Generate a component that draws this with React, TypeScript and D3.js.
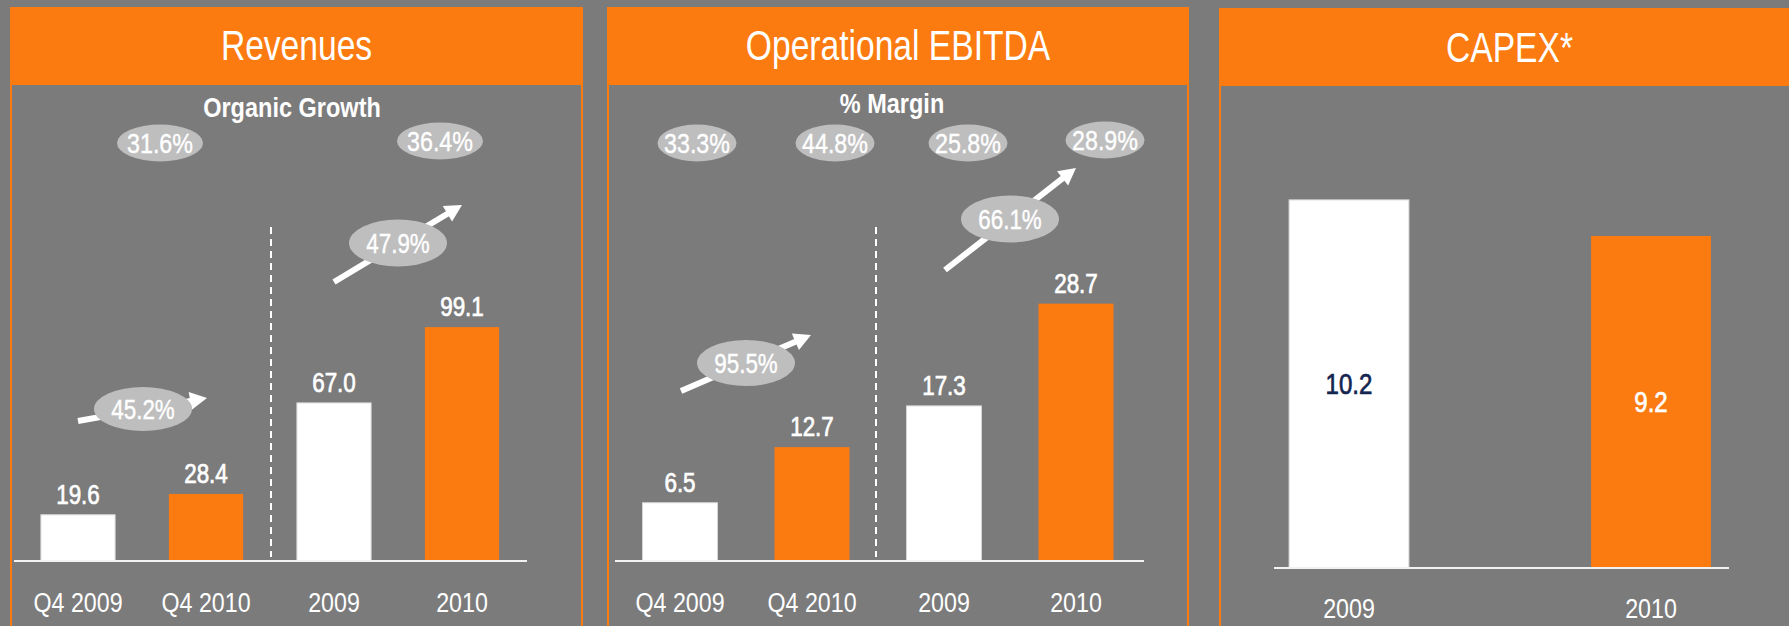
import React from "react";
import * as d3 from "d3";

// ---------- data ----------
const periodCategories = ["Q4 2009", "Q4 2010", "2009", "2010"];
const revenueValues = [19.6, 28.4, 67.0, 99.1];
const ebitdaValues = [6.5, 12.7, 17.3, 28.7];
const capexCategories = ["2009", "2010"];
const capexValues = [10.2, 9.2];
const organicGrowthLabels = ["31.6%", "36.4%"];
const revenueGrowthLabels = ["45.2%", "47.9%"];
const ebitdaMarginLabels = ["33.3%", "44.8%", "25.8%", "28.9%"];
const ebitdaGrowthLabels = ["95.5%", "66.1%"];
const panelTitles = ["Revenues", "Operational EBITDA", "CAPEX*"];
const subTitles = ["Organic Growth", "% Margin"];

// ---------- style ----------
const W = 1789;
const H = 626;
const BG = "#7b7b7b";
const ORANGE = "#fb7b10";
const BUBBLE = "#bebebe";
const NAVY = "#14254f";
const FONT = "'Liberation Sans', Arial, sans-serif";
const SQUEEZE = 0.83;

const barFill = (cat: string) => (cat.includes("2010") ? ORANGE : "#ffffff");

function CText({
  x,
  y,
  size,
  fill = "#fff",
  weight = 400,
  heavy = 0,
  squeeze = SQUEEZE,
  children,
}: {
  x: number;
  y: number;
  size: number;
  fill?: string;
  weight?: number;
  heavy?: number;
  squeeze?: number;
  children: React.ReactNode;
}) {
  return (
    <text
      transform={`translate(${x},${y}) scale(${squeeze},1)`}
      textAnchor="middle"
      fill={fill}
      stroke={heavy > 0 ? fill : "none"}
      strokeWidth={heavy}
      fontSize={size}
      fontWeight={weight}
      fontFamily={FONT}
    >
      {children}
    </text>
  );
}

function Arrow({ x1, y1, x2, y2 }: { x1: number; y1: number; x2: number; y2: number }) {
  const ang = Math.atan2(y2 - y1, x2 - x1);
  const headLen = 17;
  const headHalf = 9;
  const bx = x2 - headLen * Math.cos(ang);
  const by = y2 - headLen * Math.sin(ang);
  const px = -Math.sin(ang);
  const py = Math.cos(ang);
  const pts = [
    [x2, y2],
    [bx + px * headHalf, by + py * headHalf],
    [bx - px * headHalf, by - py * headHalf],
  ];
  return (
    <g>
      <line x1={x1} y1={y1} x2={bx + 2 * Math.cos(ang)} y2={by + 2 * Math.sin(ang)} stroke="#fff" strokeWidth={6} />
      <polygon points={pts.map((p) => p.join(",")).join(" ")} fill="#fff" />
    </g>
  );
}

function Bubble({ cx, cy, rx, ry, label, size = 27 }: { cx: number; cy: number; rx: number; ry: number; label: string; size?: number }) {
  return (
    <g>
      <ellipse cx={cx} cy={cy} rx={rx} ry={ry} fill={BUBBLE} />
      <CText x={cx} y={cy + size * 0.36} size={size} heavy={0.4}>
        {label}
      </CText>
    </g>
  );
}

function Panel({ x0, x1, top, title, titleY }: { x0: number; x1: number; top: number; title: string; titleY: number }) {
  const headerBottom = top + 77;
  return (
    <g>
      <rect x={x0 + 1} y={headerBottom} width={x1 - x0 - 2} height={H} fill={BG} stroke={ORANGE} strokeWidth={2} />
      <rect x={x0} y={top} width={x1 - x0} height={headerBottom - top} fill={ORANGE} />
      <CText x={(x0 + x1) / 2} y={titleY} size={42} squeeze={0.8}>
        {title}
      </CText>
    </g>
  );
}

function BarGroup({
  categories,
  values,
  x,
  y,
  baseline,
  lineX0,
  lineX1,
  labelInside,
}: {
  categories: string[];
  values: number[];
  x: d3.ScaleBand<string>;
  y: d3.ScaleLinear<number, number>;
  baseline: number;
  lineX0: number;
  lineX1: number;
  labelInside?: boolean;
}) {
  return (
    <g>
      {categories.map((c, i) => {
        const v = values[i];
        const top = y(v);
        const bx = x(c)!;
        const bw = x.bandwidth();
        const fill = barFill(c);
        return (
          <g key={c}>
            <rect
              x={bx}
              y={top}
              width={bw}
              height={baseline - top}
              fill={fill}
              stroke={fill === "#ffffff" ? "#d4d4d4" : "none"}
              strokeWidth={1}
            />
            {labelInside ? (
              <CText
                x={bx + bw / 2}
                y={(top + baseline) / 2 + 10}
                size={29}
                heavy={0.7}
                fill={fill === "#ffffff" ? NAVY : "#fff"}
              >
                {v.toFixed(1)}
              </CText>
            ) : (
              <CText x={bx + bw / 2} y={top - 11} size={27} heavy={0.7}>
                {v.toFixed(1)}
              </CText>
            )}
            <CText x={bx + bw / 2} y={baseline + (labelInside ? 50 : 51)} size={28}>
              {c}
            </CText>
          </g>
        );
      })}
      <line x1={lineX0} x2={lineX1} y1={baseline} y2={baseline} stroke="#f2f2f2" strokeWidth={2} />
    </g>
  );
}

export default function App() {
  // Revenues panel scales
  const base12 = 561;
  const xRev = d3.scaleBand<string>().domain(periodCategories).range([14, 526]).paddingInner(0.42).paddingOuter(0.21);
  const yRev = d3.scaleLinear().domain([0, 100]).range([base12, base12 - 236]);

  // EBITDA panel scales
  const xEb = d3.scaleBand<string>().domain(periodCategories).range([614, 1142]).paddingInner(0.432).paddingOuter(0.216);
  const yEb = d3.scaleLinear().domain([0, 30]).range([base12, base12 - 269]);

  // CAPEX panel scales
  const base3 = 568;
  const xCap = d3.scaleBand<string>().domain(capexCategories).range([1198, 1802]).paddingInner(0.603).paddingOuter(0.3015);
  const yCap = d3.scaleLinear().domain([0, 11]).range([base3, base3 - 397]);

  const marginXs = [697, 835, 968, 1105];
  const marginYs = [143, 143, 143, 140];

  return (
    <svg
      width={W}
      height={H}
      style={{ position: "fixed", left: 0, top: 0, display: "block" }}
      xmlns="http://www.w3.org/2000/svg"
    >
      <rect x={0} y={0} width={W} height={H} fill={BG} />

      {/* Panel 1: Revenues */}
      <Panel x0={10} x1={583} top={7} title={panelTitles[0]} titleY={60} />
      <CText x={292} y={117} size={28} weight={700} squeeze={0.84}>
        {subTitles[0]}
      </CText>
      <Bubble cx={160} cy={143} rx={43} ry={18.5} label={organicGrowthLabels[0]} size={28} />
      <Bubble cx={440} cy={141} rx={43} ry={18.5} label={organicGrowthLabels[1]} size={28} />
      <line x1={271} x2={271} y1={227} y2={557} stroke="#fff" strokeWidth={2} strokeDasharray="7,5" />
      <BarGroup categories={periodCategories} values={revenueValues} x={xRev} y={yRev} baseline={base12} lineX0={14} lineX1={527} />
      <Arrow x1={78} y1={421} x2={207} y2={398} />
      <Bubble cx={143} cy={409} rx={49} ry={22} label={revenueGrowthLabels[0]} />
      <Arrow x1={334} y1={282} x2={462} y2={205} />
      <Bubble cx={398} cy={243} rx={49} ry={23.5} label={revenueGrowthLabels[1]} />

      {/* Panel 2: EBITDA */}
      <Panel x0={607} x1={1189} top={7} title={panelTitles[1]} titleY={60} />
      <CText x={892} y={113} size={28} weight={700} squeeze={0.84}>
        {subTitles[1]}
      </CText>
      {ebitdaMarginLabels.map((l, i) => (
        <Bubble key={l} cx={marginXs[i]} cy={marginYs[i]} rx={39.5} ry={18.5} label={l} size={28} />
      ))}
      <line x1={876} x2={876} y1={227} y2={557} stroke="#fff" strokeWidth={2} strokeDasharray="7,5" />
      <BarGroup categories={periodCategories} values={ebitdaValues} x={xEb} y={yEb} baseline={base12} lineX0={615} lineX1={1144} />
      <Arrow x1={681} y1={391} x2={811} y2={335} />
      <Bubble cx={746} cy={363} rx={49} ry={23} label={ebitdaGrowthLabels[0]} />
      <Arrow x1={945} y1={270} x2={1076} y2={168} />
      <Bubble cx={1010} cy={219} rx={49} ry={23.5} label={ebitdaGrowthLabels[1]} />

      {/* Panel 3: CAPEX */}
      <Panel x0={1219} x1={1800} top={8} title={panelTitles[2]} titleY={62} />
      <BarGroup categories={capexCategories} values={capexValues} x={xCap} y={yCap} baseline={base3} lineX0={1274} lineX1={1729} labelInside />
    </svg>
  );
}
